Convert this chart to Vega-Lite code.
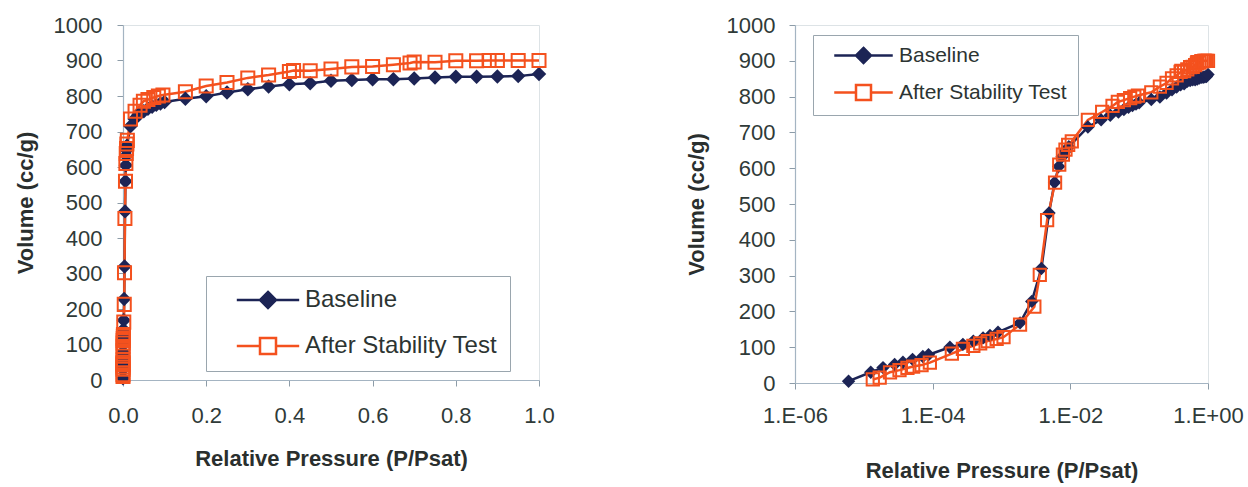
{
  "$schema": "https://vega.github.io/schema/vega-lite/v6.json",
  "background": "white",
  "padding": {"left": 13, "top": 13, "right": 5, "bottom": 5},
  "bounds": "flush",
  "spacing": 256,
  "datasets": {
    "isotherm": [
      {"series": "Baseline", "p": 0.000006, "v": 5},
      {"series": "Baseline", "p": 0.0000126, "v": 30},
      {"series": "Baseline", "p": 0.000019, "v": 43},
      {"series": "Baseline", "p": 0.000028, "v": 52},
      {"series": "Baseline", "p": 0.000037, "v": 58},
      {"series": "Baseline", "p": 0.000051, "v": 66},
      {"series": "Baseline", "p": 0.000072, "v": 74},
      {"series": "Baseline", "p": 0.000087, "v": 79},
      {"series": "Baseline", "p": 0.000178, "v": 100},
      {"series": "Baseline", "p": 0.000275, "v": 108},
      {"series": "Baseline", "p": 0.00039, "v": 117},
      {"series": "Baseline", "p": 0.00054, "v": 126},
      {"series": "Baseline", "p": 0.00068, "v": 133},
      {"series": "Baseline", "p": 0.00089, "v": 142},
      {"series": "Baseline", "p": 0.00186, "v": 168},
      {"series": "Baseline", "p": 0.00275, "v": 228},
      {"series": "Baseline", "p": 0.0038, "v": 320},
      {"series": "Baseline", "p": 0.0049, "v": 475},
      {"series": "Baseline", "p": 0.0059, "v": 560},
      {"series": "Baseline", "p": 0.0068, "v": 605},
      {"series": "Baseline", "p": 0.0076, "v": 632},
      {"series": "Baseline", "p": 0.0085, "v": 648},
      {"series": "Baseline", "p": 0.0095, "v": 660},
      {"series": "Baseline", "p": 0.018, "v": 715},
      {"series": "Baseline", "p": 0.028, "v": 735},
      {"series": "Baseline", "p": 0.038, "v": 748},
      {"series": "Baseline", "p": 0.05, "v": 757},
      {"series": "Baseline", "p": 0.06, "v": 764},
      {"series": "Baseline", "p": 0.07, "v": 770},
      {"series": "Baseline", "p": 0.08, "v": 775},
      {"series": "Baseline", "p": 0.09, "v": 779},
      {"series": "Baseline", "p": 0.1, "v": 783},
      {"series": "Baseline", "p": 0.15, "v": 792},
      {"series": "Baseline", "p": 0.2, "v": 799},
      {"series": "Baseline", "p": 0.25, "v": 810},
      {"series": "Baseline", "p": 0.3, "v": 819},
      {"series": "Baseline", "p": 0.35, "v": 827},
      {"series": "Baseline", "p": 0.4, "v": 833},
      {"series": "Baseline", "p": 0.45, "v": 836},
      {"series": "Baseline", "p": 0.5, "v": 843},
      {"series": "Baseline", "p": 0.55, "v": 845},
      {"series": "Baseline", "p": 0.6, "v": 847},
      {"series": "Baseline", "p": 0.65, "v": 847},
      {"series": "Baseline", "p": 0.7, "v": 849},
      {"series": "Baseline", "p": 0.75, "v": 852},
      {"series": "Baseline", "p": 0.8, "v": 854},
      {"series": "Baseline", "p": 0.85, "v": 854},
      {"series": "Baseline", "p": 0.9, "v": 855},
      {"series": "Baseline", "p": 0.95, "v": 856},
      {"series": "Baseline", "p": 1.0, "v": 862},
      {"series": "After Stability Test", "p": 0.0000135, "v": 10},
      {"series": "After Stability Test", "p": 0.000017, "v": 15},
      {"series": "After Stability Test", "p": 0.000024, "v": 30},
      {"series": "After Stability Test", "p": 0.000033, "v": 36},
      {"series": "After Stability Test", "p": 0.000043, "v": 42},
      {"series": "After Stability Test", "p": 0.000052, "v": 46},
      {"series": "After Stability Test", "p": 0.000069, "v": 50},
      {"series": "After Stability Test", "p": 0.000091, "v": 57},
      {"series": "After Stability Test", "p": 0.00019, "v": 82},
      {"series": "After Stability Test", "p": 0.000275, "v": 95},
      {"series": "After Stability Test", "p": 0.00039, "v": 104},
      {"series": "After Stability Test", "p": 0.00049, "v": 111},
      {"series": "After Stability Test", "p": 0.00063, "v": 117},
      {"series": "After Stability Test", "p": 0.00085, "v": 123},
      {"series": "After Stability Test", "p": 0.00107, "v": 128},
      {"series": "After Stability Test", "p": 0.00186, "v": 163},
      {"series": "After Stability Test", "p": 0.003, "v": 213},
      {"series": "After Stability Test", "p": 0.0036, "v": 302},
      {"series": "After Stability Test", "p": 0.0046, "v": 455},
      {"series": "After Stability Test", "p": 0.006, "v": 560},
      {"series": "After Stability Test", "p": 0.0069, "v": 610},
      {"series": "After Stability Test", "p": 0.0078, "v": 638},
      {"series": "After Stability Test", "p": 0.0085, "v": 652},
      {"series": "After Stability Test", "p": 0.0093, "v": 665},
      {"series": "After Stability Test", "p": 0.0105, "v": 675},
      {"series": "After Stability Test", "p": 0.018, "v": 735},
      {"series": "After Stability Test", "p": 0.029, "v": 757},
      {"series": "After Stability Test", "p": 0.041, "v": 774},
      {"series": "After Stability Test", "p": 0.049, "v": 785},
      {"series": "After Stability Test", "p": 0.06, "v": 790},
      {"series": "After Stability Test", "p": 0.074, "v": 796},
      {"series": "After Stability Test", "p": 0.085, "v": 800},
      {"series": "After Stability Test", "p": 0.096, "v": 803},
      {"series": "After Stability Test", "p": 0.15, "v": 812},
      {"series": "After Stability Test", "p": 0.2, "v": 828},
      {"series": "After Stability Test", "p": 0.25, "v": 838},
      {"series": "After Stability Test", "p": 0.3, "v": 851},
      {"series": "After Stability Test", "p": 0.35, "v": 859},
      {"series": "After Stability Test", "p": 0.4, "v": 869},
      {"series": "After Stability Test", "p": 0.41, "v": 872},
      {"series": "After Stability Test", "p": 0.45, "v": 871},
      {"series": "After Stability Test", "p": 0.5, "v": 876},
      {"series": "After Stability Test", "p": 0.55, "v": 882},
      {"series": "After Stability Test", "p": 0.6, "v": 883},
      {"series": "After Stability Test", "p": 0.65, "v": 888},
      {"series": "After Stability Test", "p": 0.69, "v": 893},
      {"series": "After Stability Test", "p": 0.7, "v": 896},
      {"series": "After Stability Test", "p": 0.75, "v": 895},
      {"series": "After Stability Test", "p": 0.8, "v": 899},
      {"series": "After Stability Test", "p": 0.85, "v": 899},
      {"series": "After Stability Test", "p": 0.88, "v": 900},
      {"series": "After Stability Test", "p": 0.9, "v": 900},
      {"series": "After Stability Test", "p": 0.95, "v": 900},
      {"series": "After Stability Test", "p": 1.0, "v": 900}
    ]
  },
  "data": {"name": "isotherm"},
  "hconcat": [
    {
      "width": 416,
      "height": 355,
      "encoding": {
        "x": {
          "field": "p", "type": "quantitative",
          "scale": {"domain": [0, 1], "nice": false, "zero": false},
          "axis": {
            "title": "Relative Pressure (P/Psat)",
            "values": [0, 0.2, 0.4, 0.6, 0.8, 1.0],
            "format": ".1f",
            "labelFlush": false,
            "labelPadding": 19,
            "titlePadding": 22
          }
        },
        "y": {
          "field": "v", "type": "quantitative",
          "scale": {"domain": [0, 1000], "nice": false},
          "axis": {
            "title": "Volume (cc/g)",
            "values": [0, 100, 200, 300, 400, 500, 600, 700, 800, 900, 1000],
            "format": "d",
            "labelPadding": 15,
            "titlePadding": 16
          }
        }
      },
      "layer": [
        {
          "mark": {"type": "line", "strokeWidth": 2.5},
          "encoding": {
            "stroke": {
              "field": "series", "type": "nominal",
              "scale": {"domain": ["Baseline", "After Stability Test"], "range": ["#1c2455", "#f4511e"]},
              "legend": {
                "title": null, "orient": "none", "legendX": 83, "legendY": 251,
                "padding": 12, "rowPadding": 20, "symbolSize": 256,
                "symbolOffset": 38, "labelOffset": 25, "labelLimit": 400,
                "labelFontSize": 24, "labelFont": "Liberation Sans", "labelColor": "#2c3432",
                "strokeColor": "#9aa6ae", "fillColor": "white",
                "encode": {
                  "symbols": {
                    "update": {
                      "shape": {"signal": "datum.value === 'Baseline' ? 'M-3.9,0L3.9,0M0,-1L1,0L0,1L-1,0Z' : 'M-3.9,0L-1,0M1,0L3.9,0M-1,-1L1,-1L1,1L-1,1Z'"},
                      "fill": {"signal": "datum.value === 'Baseline' ? '#1c2455' : 'white'"},
                      "strokeWidth": {"value": 2.5},
                      "size": {"value": 256},
                      "opacity": {"value": 1}
                    }
                  }
                }
              }
            }
          }
        },
        {
          "transform": [{"filter": "datum.series === 'Baseline'"}],
          "mark": {"type": "point", "shape": "diamond", "size": 210, "filled": true, "color": "#1c2455", "opacity": 1}
        },
        {
          "transform": [{"filter": "datum.series === 'After Stability Test'"}],
          "mark": {"type": "point", "shape": "square", "size": 170, "filled": false, "color": "#f4511e", "strokeWidth": 2, "opacity": 1}
        }
      ]
    },
    {
      "width": 413,
      "height": 358,
      "encoding": {
        "x": {
          "field": "p", "type": "quantitative",
          "scale": {"type": "log", "domain": [0.000001, 1], "nice": false},
          "axis": {
            "title": "Relative Pressure (P/Psat)",
            "values": [0.000001, 0.0001, 0.01, 1],
            "labelExpr": "'1.E' + (datum.value >= 1 ? '+' : '-') + format(abs(round(log(datum.value) / LN10)), '02d')",
            "labelFlush": false,
            "labelPadding": 16,
            "titlePadding": 34
          }
        },
        "y": {
          "field": "v", "type": "quantitative",
          "scale": {"domain": [0, 1000], "nice": false},
          "axis": {
            "title": "Volume  (cc/g)",
            "values": [0, 100, 200, 300, 400, 500, 600, 700, 800, 900, 1000],
            "format": "d",
            "labelPadding": 14,
            "titlePadding": 18
          }
        }
      },
      "layer": [
        {
          "mark": {"type": "line", "strokeWidth": 2.5},
          "encoding": {
            "stroke": {
              "field": "series", "type": "nominal",
              "scale": {"domain": ["Baseline", "After Stability Test"], "range": ["#1c2455", "#f4511e"]},
              "legend": {
                "title": null, "orient": "none", "legendX": 18, "legendY": 10,
                "padding": 10, "rowPadding": 12, "symbolSize": 225,
                "symbolOffset": 30, "labelOffset": 25, "labelLimit": 400,
                "labelFontSize": 21, "labelFont": "Liberation Sans", "labelColor": "#2c3432",
                "strokeColor": "#9aa6ae", "fillColor": "white",
                "encode": {
                  "symbols": {
                    "update": {
                      "shape": {"signal": "datum.value === 'Baseline' ? 'M-3.9,0L3.9,0M0,-1L1,0L0,1L-1,0Z' : 'M-3.9,0L-1,0M1,0L3.9,0M-1,-1L1,-1L1,1L-1,1Z'"},
                      "fill": {"signal": "datum.value === 'Baseline' ? '#1c2455' : 'white'"},
                      "strokeWidth": {"value": 2.5},
                      "size": {"value": 225},
                      "opacity": {"value": 1}
                    }
                  }
                }
              }
            }
          }
        },
        {
          "transform": [{"filter": "datum.series === 'Baseline'"}],
          "mark": {"type": "point", "shape": "diamond", "size": 180, "filled": true, "color": "#1c2455", "opacity": 1}
        },
        {
          "transform": [{"filter": "datum.series === 'After Stability Test'"}],
          "mark": {"type": "point", "shape": "square", "size": 150, "filled": false, "color": "#f4511e", "strokeWidth": 2, "opacity": 1}
        }
      ]
    }
  ],
  "resolve": {
    "scale": {"stroke": "independent"},
    "legend": {"stroke": "independent"}
  },
  "config": {
    "font": "Liberation Sans",
    "view": {"stroke": "#dde3e6", "strokeWidth": 1},
    "axis": {
      "labelFont": "Liberation Sans",
      "labelFontSize": 22,
      "labelColor": "#2f3a38",
      "titleFont": "Liberation Sans",
      "titleFontSize": 22,
      "titleFontWeight": "bold",
      "titleColor": "#2a2f2e",
      "domainColor": "#a4b4c2",
      "domainWidth": 1.2,
      "tickColor": "#8d9ca8",
      "tickSize": 6,
      "grid": false
    }
  }
}
